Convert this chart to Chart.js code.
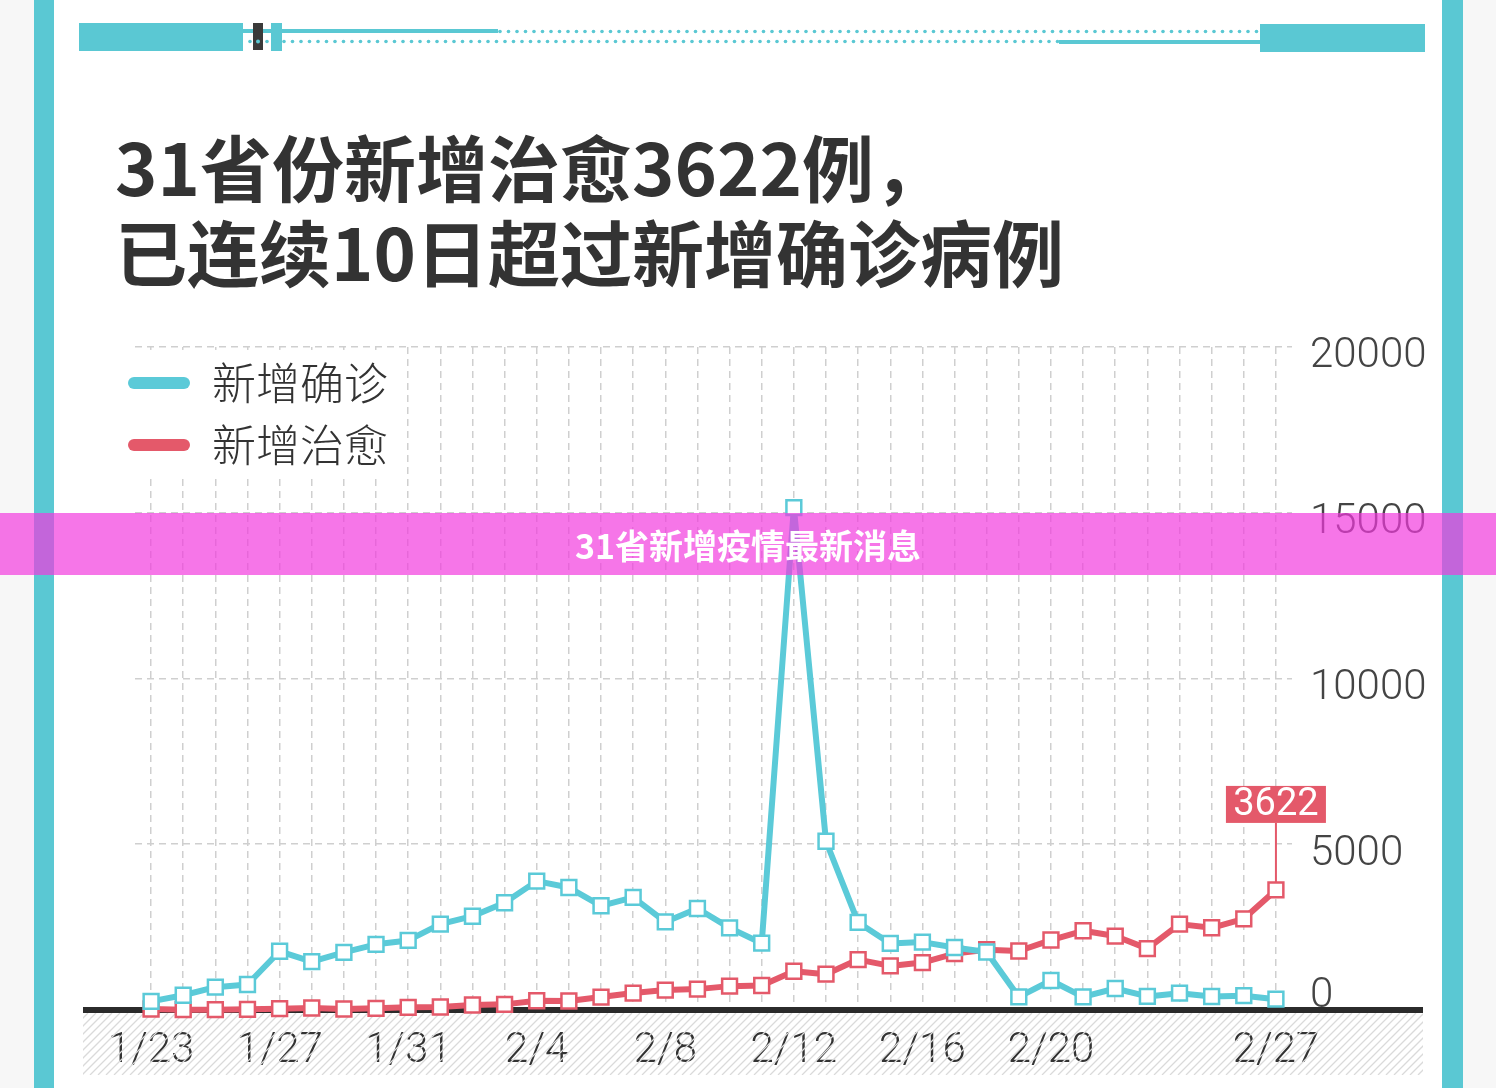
<!DOCTYPE html>
<html>
<head>
<meta charset="utf-8">
<script src="https://cdn.jsdelivr.net/npm/chart.js@4.4.1/dist/chart.umd.min.js"></script>
<style>
html,body{margin:0;padding:0;background:#fff;}
#wrap{position:relative;width:1496px;height:1088px;overflow:hidden;}
#c{position:absolute;left:0;top:0;}
#banner{position:absolute;left:0;top:513px;width:1496px;height:62px;background:rgba(242,56,222,0.69);color:#fff;font-family:"Noto Sans CJK SC",sans-serif;font-weight:bold;font-size:34px;display:flex;align-items:center;justify-content:center;}
</style>
</head>
<body>
<div id="wrap">
<canvas id="c" width="1496" height="1088"></canvas>
<div id="banner">31省新增疫情最新消息</div>
</div>
<script>
// ---- data ----
const dates = ['1/23','1/24','1/25','1/26','1/27','1/28','1/29','1/30','1/31',
  '2/1','2/2','2/3','2/4','2/5','2/6','2/7','2/8','2/9','2/10','2/11','2/12','2/13','2/14',
  '2/15','2/16','2/17','2/18','2/19','2/20','2/21','2/22','2/23','2/24','2/25','2/26','2/27'];
const tickLabels = ['1/23','1/27','1/31','2/4','2/8','2/12','2/16','2/20','2/27'];
const confirmed = [259,444,688,769,1771,1459,1737,1981,2099,
  2590,2829,3235,3887,3694,3143,3399,2656,3062,2478,2015,15152,5090,2641,
  2009,2048,1886,1749,394,889,397,648,409,508,406,433,327];
const cured = [30,10,10,20,40,60,30,50,80,
  90,150,170,280,270,390,510,600,630,720,740,1170,1080,1520,
  1330,1430,1700,1820,1780,2110,2390,2230,1850,2590,2480,2750,3622];
const seriesNames = ['新增确诊','新增治愈'];
const titleLines = ['31省份新增治愈3622例，','已连续10日超过新增确诊病例'];
const yTicks = [0,5000,10000,15000,20000];

const CYAN = '#5BCAD8';
const RED = '#E4596A';
const FRAME = '#5AC8D3';
const GRID = '#cfcfcf';
const TICKFONT = {family:'Roboto', size:42, weight:'300'};

const deco = {
  id:'deco',
  afterInit(chart){
    const lg = chart.legend;
    if (lg) lg._layers = () => [{z:1, draw:(a)=>lg.draw(a)}];
  },
  afterLayout(chart){
    const ca = chart.chartArea;
    const lg = chart.legend;
    if (lg){
      const w = lg.width, h = lg.height;
      lg.left = ca.left - 25; lg.right = lg.left + w;
      lg.top = ca.top - 4; lg.bottom = lg.top + h;
    }
    if (chart.titleBlock){ chart.titleBlock.left -= 20; chart.titleBlock.right -= 20; }
  },
  beforeDraw(chart){
    const ctx = chart.ctx;
    ctx.save();
    ctx.fillStyle = '#f7f7f7'; ctx.fillRect(0,0,1496,1088);
    ctx.fillStyle = '#ffffff'; ctx.fillRect(54,0,1388,1088);
    ctx.fillStyle = FRAME; ctx.fillRect(34,0,20,1088); ctx.fillRect(1442,0,21,1088);
    // top ornament
    ctx.fillStyle = FRAME;
    ctx.fillRect(79,23,164,28);
    ctx.fillRect(1260,24,165,28);
    ctx.fillRect(243,29,255,4);
    ctx.fillRect(1059,40,201,4);
    ctx.fillRect(271,23,11,28);
    for (let x=500; x<1258; x+=8.5){ ctx.beginPath(); ctx.arc(x,31.5,1.8,0,Math.PI*2); ctx.fill(); }
    for (let x=250; x<1058; x+=8.5){ ctx.beginPath(); ctx.arc(x,41.5,1.8,0,Math.PI*2); ctx.fill(); }
    ctx.fillStyle = '#3a3a3a'; ctx.fillRect(253,23,10,27);
    ctx.fillStyle = FRAME; ctx.beginPath(); ctx.arc(258,41.5,2,0,Math.PI*2); ctx.fill();
    ctx.restore();
  },
  beforeDatasetsDraw(chart){
    const ctx = chart.ctx;
    const y0 = chart.scales.y.getPixelForValue(0);
    ctx.save();
    // white background behind legend
    const lg = chart.legend;
    ctx.fillStyle = '#fff';
    ctx.fillRect(lg.left - 8, chart.chartArea.top + 3, 292, 128);
    // hatch area below axis
    ctx.beginPath(); ctx.rect(83, y0+3, 1340, 62); ctx.clip();
    ctx.strokeStyle = '#dadada'; ctx.lineWidth = 1.3;
    ctx.beginPath();
    for (let x = 10; x < 1440; x += 8){ ctx.moveTo(x, y0+65); ctx.lineTo(x+62, y0+3); }
    ctx.stroke();
    ctx.restore();
    ctx.save();
    ctx.fillStyle = '#2b2b2b';
    ctx.fillRect(83, y0-3, 1340, 6);
    // "0" tick label, drawn slightly above the axis line
    ctx.fillStyle = '#444';
    ctx.font = '300 42px Roboto';
    ctx.textAlign = 'left'; ctx.textBaseline = 'middle';
    ctx.fillText(String(yTicks[0]), chart.chartArea.right + 18, y0 - 14);
    ctx.restore();
  },
  afterDatasetsDraw(chart){
    const ctx = chart.ctx;
    const meta = chart.getDatasetMeta(1);
    const pt = meta.data[meta.data.length-1];
    const val = cured[cured.length-1];
    ctx.save();
    const boxB = pt.y - 67, boxT = boxB - 37;
    ctx.strokeStyle = RED; ctx.lineWidth = 2;
    ctx.beginPath(); ctx.moveTo(pt.x, boxB); ctx.lineTo(pt.x, pt.y - 7); ctx.stroke();
    ctx.fillStyle = RED; ctx.fillRect(pt.x - 50, boxT, 100, 37);
    ctx.fillStyle = '#fff'; ctx.font = '400 38px Roboto';
    ctx.textAlign = 'center'; ctx.textBaseline = 'middle';
    ctx.fillText(String(val), pt.x, boxT + 20);
    ctx.restore();
  }
};

function ds(label, data, color){
  return {label, data, borderColor:color, backgroundColor:'#fff', borderWidth:6,
    pointStyle:'rect', pointRadius:10.5, pointHoverRadius:10.5, pointBorderWidth:2.5,
    pointBackgroundColor:'#fff', pointBorderColor:color, tension:0,
    borderJoinStyle:'round', clip:false};
}

new Chart(document.getElementById('c'), {
  type:'line',
  data:{ labels:dates, datasets:[ds(seriesNames[0], confirmed, CYAN), ds(seriesNames[1], cured, RED)] },
  options:{
    responsive:false, animation:false, devicePixelRatio:1,
    layout:{ padding:{left:135, right:64, top:100, bottom:14} },
    plugins:{
      tooltip:{enabled:false},
      title:{ display:true, align:'start', text:titleLines, color:'#333',
        font:{family:'Noto Sans CJK SC', size:72, weight:'bold', lineHeight:1.18},
        padding:{top:26, bottom:51} },
      legend:{ position:'chartArea', align:'start',
        labels:{ boxWidth:62, boxHeight:12, useBorderRadius:true, borderRadius:6, padding:18, color:'#333',
          font:{family:'Noto Sans CJK SC', size:44, weight:'300'},
          generateLabels:(chart)=>chart.data.datasets.map((d,i)=>({text:d.label, fillStyle:d.borderColor,
            strokeStyle:d.borderColor, lineWidth:0, hidden:false, datasetIndex:i, borderRadius:6, fontColor:'#333'})) } }
    },
    scales:{
      x:{ offset:true,
        grid:{ offset:false, color:GRID, lineWidth:1.5, drawTicks:false },
        border:{ display:false, dash:[7,5] },
        ticks:{ autoSkip:false, maxRotation:0, padding:16, color:'#333', font:TICKFONT,
          callback:function(v){ const l = this.getLabelForValue(v); return tickLabels.includes(l) ? l : ''; } },
        afterFit:(s)=>{ s.height = 64; } },
      y:{ position:'right', min:0, max:20000,
        grid:{ color:GRID, lineWidth:1.5, drawTicks:false },
        border:{ display:false, dash:[7,5] },
        ticks:{ stepSize:5000, padding:18, labelOffset:10, crossAlign:'near', font:TICKFONT,
          callback:(v)=>String(v),
          color:(c)=> (c.tick && c.tick.value === yTicks[0]) ? 'rgba(0,0,0,0)' : '#444' },
        afterFit:(s)=>{ s.width = 140; } }
    }
  },
  plugins:[deco]
});
</script>
</body>
</html>
